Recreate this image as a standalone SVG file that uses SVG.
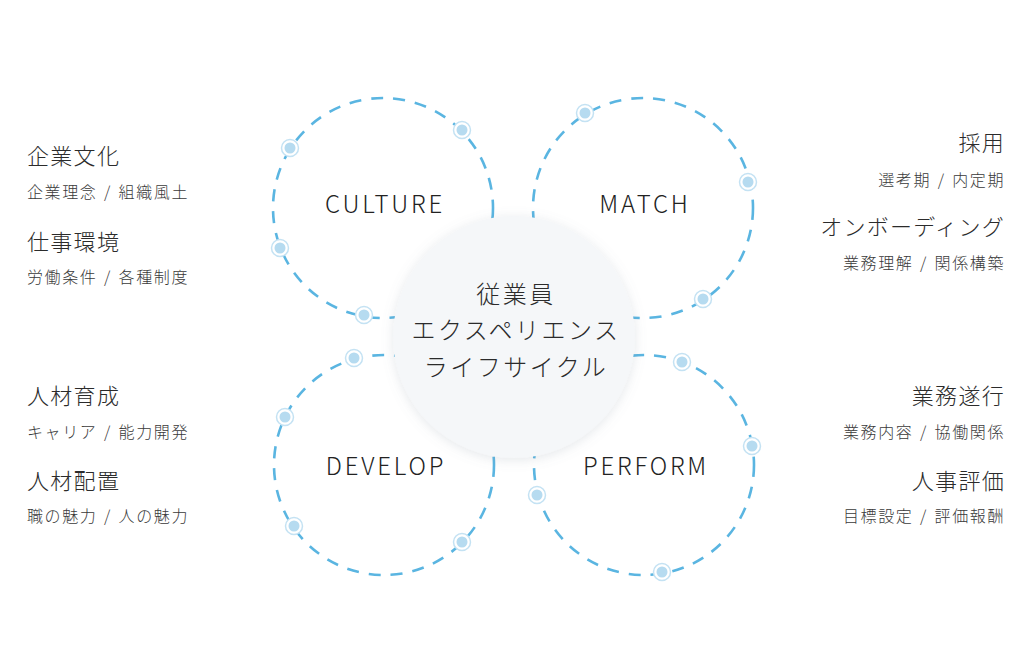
<svg xmlns="http://www.w3.org/2000/svg" width="1034" height="646" viewBox="0 0 1034 646">
<style>
text{font-family:"Noto Sans CJK JP","Noto Sans",sans-serif;font-weight:300;}
.ring{fill:none;stroke:#5ab5e1;stroke-width:2.6;stroke-dasharray:12 10;}
.lbl{font-size:24px;fill:#222;text-anchor:middle;letter-spacing:2.8px;}
.ctr{font-size:24px;fill:#2b2b2b;text-anchor:middle;letter-spacing:2.5px;}
.h{font-size:22px;fill:#2b2b2b;letter-spacing:1.3px;}
.s{font-size:16px;fill:#3a3a3a;letter-spacing:1.6px;word-spacing:1.5px;}
.r{text-anchor:end;}
</style>
<defs>
<g id="dot"><circle r="8.5" fill="#fff" stroke="#c4e2f3" stroke-width="1.5"/><circle r="5.5" fill="#b6dbf0"/></g>
<filter id="sh" x="-20%" y="-20%" width="140%" height="140%"><feDropShadow dx="0" dy="2" stdDeviation="6" flood-color="#7a8a99" flood-opacity="0.2"/></filter>
</defs>
<rect width="1034" height="646" fill="#fff"/>
<g id="connectors"></g>
<g id="culture">
<circle class="ring" cx="383" cy="208" r="110"/>
<use href="#dot" x="290" y="148"/><use href="#dot" x="462" y="130"/><use href="#dot" x="280" y="248"/><use href="#dot" x="364" y="315"/>
<text class="lbl" x="385" y="213">CULTURE</text>
</g>
<g id="match">
<circle class="ring" cx="643" cy="208" r="110"/>
<use href="#dot" x="585" y="113"/><use href="#dot" x="748" y="182"/><use href="#dot" x="703" y="299"/>
<text class="lbl" x="645" y="213">MATCH</text>
</g>
<g id="develop">
<circle class="ring" cx="384" cy="465" r="110"/>
<use href="#dot" x="354" y="358"/><use href="#dot" x="285" y="417"/><use href="#dot" x="294" y="526"/><use href="#dot" x="462" y="542"/>
<text class="lbl" x="386" y="475">DEVELOP</text>
</g>
<g id="perform">
<circle class="ring" cx="644" cy="465" r="110"/>
<use href="#dot" x="682" y="362"/><use href="#dot" x="752" y="446"/><use href="#dot" x="537" y="495"/><use href="#dot" x="662" y="572"/>
<text class="lbl" x="646" y="475">PERFORM</text>
</g>
<g id="center">
<circle cx="514" cy="337" r="121" fill="#f5f7f9" filter="url(#sh)"/>
<text class="ctr" x="516" y="303">従業員</text>
<text class="ctr" x="516" y="339">エクスペリエンス</text>
<text class="ctr" x="516" y="376">ライフサイクル</text>
</g>
<g id="culture-text">
<text class="h" x="27" y="164">企業文化</text>
<text class="s" x="27" y="198">企業理念 / 組織風土</text>
<text class="h" x="27" y="250">仕事環境</text>
<text class="s" x="27" y="283">労働条件 / 各種制度</text>
</g>
<g id="match-text">
<text class="h r" x="1005" y="151">採用</text>
<text class="s r" x="1005" y="186">選考期 / 内定期</text>
<text class="h r" x="1005" y="235">オンボーディング</text>
<text class="s r" x="1005" y="269">業務理解 / 関係構築</text>
</g>
<g id="develop-text">
<text class="h" x="27" y="404">人材育成</text>
<text class="s" x="27" y="438">キャリア / 能力開発</text>
<text class="h" x="27" y="489">人材配置</text>
<text class="s" x="27" y="522">職の魅力 / 人の魅力</text>
</g>
<g id="perform-text">
<text class="h r" x="1005" y="404">業務遂行</text>
<text class="s r" x="1005" y="438">業務内容 / 協働関係</text>
<text class="h r" x="1005" y="489">人事評価</text>
<text class="s r" x="1005" y="522">目標設定 / 評価報酬</text>
</g>
</svg>
